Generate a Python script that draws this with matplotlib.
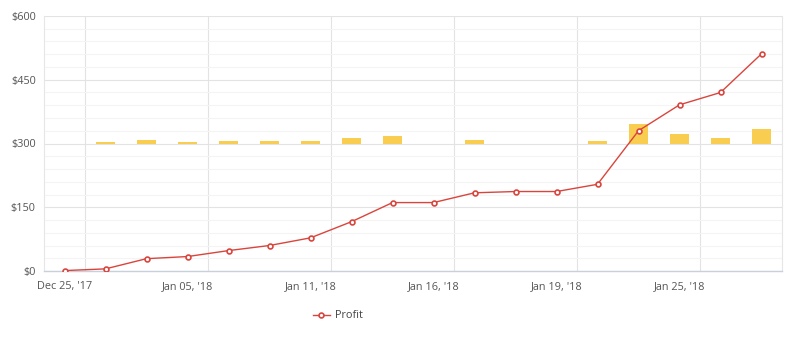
import numpy as np
import matplotlib
matplotlib.use("Agg")
from matplotlib import pyplot as plt
from matplotlib.ticker import MultipleLocator, FuncFormatter

plt.rcParams['font.family'] = ['Open Sans', 'DejaVu Sans']

days = ["Dec 25, '17", "", "", "Jan 05, '18", "", "", "Jan 11, '18", "", "",
        "Jan 16, '18", "", "", "Jan 19, '18", "", "", "Jan 25, '18", "", ""]
profit = [1, 5, 29, 34, 48, 60, 78, 116, 161, 161, 184, 187, 187, 204, 330, 391, 420, 511]
bar_vals = [0, 2.5, 9, 2.5, 5, 5, 7, 14, 17, 0, 9, 0, 0, 7, 47, 23, 12, 33]
bar_base = 300

x = np.arange(len(days))

fig = plt.figure(figsize=(7.88, 3.56), dpi=100)
ax = fig.add_axes([44/788, 85/356, 738/788, 255/356])

ax.bar(x, bar_vals, bottom=bar_base, width=0.48, color="#f8cd50", zorder=2)
ax.plot(x, profit, color="#d9453d", lw=1, marker="o", ms=3.5, mfc="white",
        mec="#d9453d", mew=1.2, zorder=3, label="Profit")

ax.set_xlim(-0.5, len(days) - 0.5)
ax.set_ylim(0, 600)
ax.yaxis.set_major_locator(MultipleLocator(150))
ax.yaxis.set_minor_locator(MultipleLocator(30))
ax.yaxis.set_major_formatter(FuncFormatter(lambda v, p: "$%d" % v))
ax.set_xticks(x)
ax.set_xticklabels(days)
# vertical grid sits between categories, every third one
ax.set_xticks(np.arange(0.5, len(days) - 1, 3), minor=True)

ax.grid(axis="y", which="major", color="#e3e3e3", lw=0.8, zorder=0)
ax.grid(axis="y", which="minor", color="#f4f4f4", lw=0.8, zorder=0)
ax.grid(axis="x", which="minor", color="#e3e3e3", lw=0.8, zorder=0)

ax.spines["top"].set_visible(False)
for s in ["left", "right"]:
    ax.spines[s].set_color("#e6e6e6")
    ax.spines[s].set_linewidth(0.8)
ax.spines["bottom"].set_color("#c8d0dc")
ax.spines["bottom"].set_linewidth(1)

ax.tick_params(axis="both", which="both", length=0, labelsize=7.8, colors="#555555")
ax.tick_params(axis="x", pad=7)
ax.tick_params(axis="y", pad=6)

fig.legend(loc="center", bbox_to_anchor=(338/788, 1 - 316/356), frameon=False,
           fontsize=7.8, handlelength=1.6, handletextpad=0.5, labelcolor="#444444")

plt.savefig("out.png", dpi=100)
